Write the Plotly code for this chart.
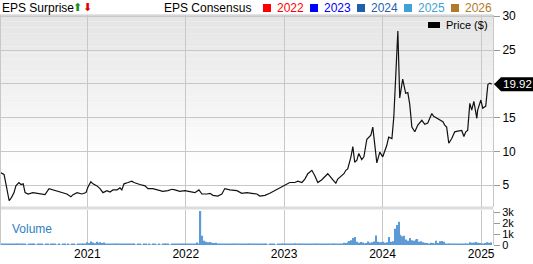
import plotly.graph_objects as go
import pandas as pd

# ---------------- data ----------------
price_dates = [
    "2020-02-12","2020-02-27","2020-03-05","2020-03-17","2020-03-26","2020-04-04","2020-04-11","2020-04-22",
    "2020-04-30","2020-05-08","2020-05-15","2020-05-26","2020-06-13","2020-06-27","2020-07-09","2020-07-28",
    "2020-08-12","2020-08-27","2020-09-14","2020-10-03","2020-10-17","2020-11-01","2020-11-09","2020-11-24",
    "2020-12-12","2020-12-27","2021-01-03","2021-01-14","2021-01-22","2021-02-06","2021-02-17","2021-02-28",
    "2021-03-15","2021-03-26","2021-04-06","2021-04-21","2021-05-02","2021-05-09","2021-05-17","2021-06-01",
    "2021-06-15","2021-06-23","2021-07-04","2021-07-15","2021-08-03","2021-08-14","2021-09-01","2021-09-20",
    "2021-10-08","2021-10-27","2021-11-11","2021-11-22","2021-12-10","2021-12-29","2022-01-17","2022-02-04",
    "2022-02-19","2022-03-02","2022-03-21","2022-04-01","2022-04-12","2022-04-30","2022-05-15","2022-05-26",
    "2022-06-14","2022-07-10","2022-07-28","2022-08-16","2022-09-03","2022-09-22","2022-10-03","2022-10-22",
    "2022-11-09","2022-11-28","2022-12-16","2023-01-04","2023-01-22","2023-02-10","2023-02-21","2023-03-08",
    "2023-03-19","2023-03-30","2023-04-14","2023-04-25","2023-05-06","2023-05-21","2023-06-01","2023-06-12",
    "2023-07-01","2023-07-12","2023-07-19","2023-08-03","2023-08-11","2023-08-18","2023-08-25","2023-09-06",
    "2023-09-13","2023-09-20","2023-09-28","2023-10-05","2023-10-16","2023-10-24","2023-11-04","2023-11-19",
    "2023-11-26","2023-12-11","2023-12-22","2024-01-02","2024-01-17","2024-01-24","2024-02-05","2024-02-12",
    "2024-02-19","2024-02-27","2024-03-05","2024-03-13","2024-03-16","2024-03-27","2024-04-04","2024-04-11",
    "2024-04-19","2024-04-30","2024-05-11","2024-05-26","2024-06-06","2024-06-17","2024-07-02","2024-07-09",
    "2024-07-20","2024-08-01","2024-08-12","2024-08-19","2024-08-26","2024-08-30","2024-09-03","2024-09-14",
    "2024-09-25","2024-10-06","2024-10-21","2024-10-29","2024-11-05","2024-11-12","2024-11-20","2024-11-27",
    "2024-12-05","2024-12-16","2024-12-19","2024-12-31","2025-01-07","2025-01-18","2025-01-26","2025-02-02",
    "2025-02-09",
]
price_values = [
    6.9, 6.6, 5.2, 2.7, 3.2, 3.9, 4.9, 5.4,
    5.1, 5.2, 3.9, 3.7, 3.9, 3.8, 3.7, 3.6,
    4.5, 4.3, 4.1, 3.9, 3.7, 3.3, 3.6, 3.9,
    3.7, 3.9, 4.7, 5.5, 5.2, 4.9, 4.5, 3.9,
    4.2, 4.0, 4.3, 4.3, 4.6, 4.3, 5.2, 5.4,
    5.6, 5.4, 5.2, 5.1, 4.9, 4.5, 4.5, 4.3,
    4.1, 4.2, 4.4, 4.3, 4.1, 4.2, 4.0, 3.9,
    4.3, 3.7, 3.7, 3.8, 3.5, 3.4, 3.7, 4.5,
    4.3, 4.2, 3.8, 3.9, 3.8, 3.7, 3.4, 3.5,
    3.8, 4.2, 4.6, 4.9, 5.4, 5.4, 5.6, 5.4,
    5.9, 6.7, 7.2, 6.4, 5.4, 5.8, 6.3, 6.7,
    5.8, 5.3, 5.9, 6.4, 6.7, 7.2, 7.4, 9.2,
    10.7, 8.4, 8.7, 9.7, 8.8, 9.2, 11.8, 12.4,
    13.6, 8.3, 9.9, 9.2, 10.9, 12.1, 11.9, 15.1,
    22.1, 27.8, 17.9, 20.6, 20.7, 18.6, 18.7, 17.0,
    13.6, 12.9, 13.9, 14.6, 14.0, 14.2, 15.6, 15.2,
    14.9, 14.6, 14.4, 13.9, 13.6, 12.4, 11.2, 11.9,
    12.9, 13.0, 13.1, 12.2, 12.9, 13.1, 17.1, 16.1,
    17.4, 14.9, 16.1, 17.6, 16.4, 16.7, 19.9, 20.1,
    19.92,
]

# weekly volume (shares), starting 2020-02-14
volume_start = "2020-02-14"
volume_values = [
    # 2020
    70, 90, 110, 140, 90, 80, 70, 60, 80, 60, 50, 70, 60, 50, 40, 60, 50, 70, 60, 40, 50, 60, 50,
    40, 60, 50, 40, 50, 60, 50, 40, 50, 40, 60, 50, 40, 50, 40, 60, 50, 40, 50, 60, 50, 80, 150,
    # 2021
    250, 180, 330, 220, 160, 290, 200, 260, 180, 240, 150, 120, 90, 80, 70, 90, 60, 70, 80, 130,
    90, 70, 60, 50, 60, 50, 40, 60, 50, 40, 50, 60, 40, 50, 40, 60, 50, 40, 50, 40,
    60, 50, 70, 50, 40, 60, 50, 70, 80, 60, 90, 70,
    # 2022
    60, 80, 70, 90, 100, 110, 220, 150, 3130, 850, 400, 300, 250, 280, 200, 180, 210, 150, 130, 120,
    100, 110, 90, 80, 100, 70, 80, 60, 70, 60, 50, 60, 50, 60, 70, 50, 60, 50, 80, 150,
    70, 60, 50, 60, 40, 50, 60, 50, 40, 60, 50, 60,
    # 2023
    60, 80, 70, 90, 100, 80, 160, 100, 80, 90, 120, 80, 100, 70, 90, 110, 80, 70, 90, 80,
    100, 70, 60, 80, 90, 70, 100, 80, 120, 100, 90, 150, 200, 180, 250, 380, 450, 650, 750, 300,
    200, 280, 220, 150, 180, 320, 200, 250, 330, 880, 300, 250,
    # 2024
    280, 300, 200, 250, 750, 300, 350, 1500, 1850, 2150, 950, 800, 850, 500, 400, 650, 450, 400, 500, 550,
    300, 350, 250, 200, 180, 150, 200, 180, 150, 400, 180, 350, 380, 300, 150, 120, 100, 130, 110, 90,
    120, 100, 130, 150, 120, 110, 140, 250, 200, 220, 280, 200,
    # 2025
    180, 150, 120, 180, 250, 200, 230,
]
volume_dates = pd.date_range(volume_start, periods=len(volume_values), freq="7D")

year_ticks = ["2021-01-01", "2022-01-01", "2023-01-01", "2024-01-01", "2025-01-01"]
year_labels = ["2021", "2022", "2023", "2024", "2025"]
price_ticks = [5, 10, 15, 20, 25, 30]
price_tick_labels = ["5", "10", "15", "", "25", "30"]
volume_ticks = [0, 1000, 2000, 3000]
volume_tick_labels = ["0", "1k", "2k", "3k"]
last_price = price_values[-1]
consensus_years = ["2022", "2023", "2024", "2025", "2026"]
consensus_colors = ["#ff0000", "#0000ff", "#1f5fae", "#3ea2d2", "#b07a2a"]

# ---------------- layout geometry (pixels) ----------------
W, H = 533, 264
ML, MR, MT, MB = 0, 40, 15, 19
PW, PH = W - ML - MR, H - MT - MB


def px_x(px):
    return (px - ML) / PW


def px_y(py):
    return (H - MB - py) / PH


FONT = "Liberation Sans, Arial, sans-serif"
GRID = "#c8c8c8"

ppu = 6.76                      # pixels per price unit
p_bot_px = 207                  # bottom of price panel
p_lo = (219 - p_bot_px) / ppu   # price value at panel bottom (0 would sit at px 219)
p_hi = p_lo + (p_bot_px - MT) / ppu
price_dom = [px_y(p_bot_px), 1.0]
v_top_px = 209.5
vol_dom = [0.0, px_y(v_top_px)]
v_hi = 3000 * (H - MB - v_top_px) / (H - MB - 212.5)

fig = go.Figure()
fig.add_trace(go.Scatter(
    x=price_dates, y=price_values, mode="lines",
    line=dict(color="#111111", width=1.2), yaxis="y", xaxis="x",
    hoverinfo="skip", showlegend=False,
))
fig.add_trace(go.Bar(
    x=volume_dates, y=volume_values, yaxis="y2", xaxis="x",
    marker=dict(color="#5d9bd6", line=dict(width=0)),
    hoverinfo="skip", showlegend=False,
))

shapes = []
# gradient background in price panel
n = 24
top_px, bot_px = MT, 165
for i in range(n):
    y0p = top_px + (bot_px - top_px) * i / n
    y1p = top_px + (bot_px - top_px) * (i + 1) / n
    t = (i + 0.5) / n
    c = int(229 + (255 - 229) * t)
    shapes.append(dict(type="rect", xref="paper", yref="paper",
                       x0=0, x1=1, y0=px_y(y1p), y1=px_y(y0p),
                       fillcolor=f"rgb({c},{c},{c})", line=dict(width=0), layer="below"))
# separator band between panels
shapes.append(dict(type="rect", xref="paper", yref="paper", x0=0, x1=1,
                   y0=px_y(209.5), y1=px_y(206.5), fillcolor="#dcdcdc",
                   line=dict(width=0), layer="below"))
# borders: top, left
shapes.append(dict(type="line", xref="paper", yref="paper", x0=0, x1=1, y0=1, y1=1,
                   line=dict(color=GRID, width=1)))
shapes.append(dict(type="line", xref="paper", yref="paper", x0=0.001, x1=0.001, y0=0, y1=1,
                   line=dict(color=GRID, width=1)))
# last price tag
hh = 7 / ppu
shapes.append(dict(
    type="path", xref="paper", yref="y",
    path=(f"M {px_x(494)},{last_price} L {px_x(501)},{last_price + hh} "
          f"L {px_x(533)},{last_price + hh} L {px_x(533)},{last_price - hh} "
          f"L {px_x(501)},{last_price - hh} Z"),
    fillcolor="#000000", line=dict(width=0), layer="above"))
# price legend swatch
shapes.append(dict(type="rect", xref="paper", yref="paper",
                   x0=px_x(428), x1=px_x(440), y0=px_y(28), y1=px_y(22),
                   fillcolor="#000000", line=dict(width=0)))
# consensus swatches
sq_x = [263, 310, 357, 404, 451]
for xx, col in zip(sq_x, consensus_colors):
    shapes.append(dict(type="rect", xref="paper", yref="paper",
                       x0=px_x(xx), x1=px_x(xx + 8), y0=px_y(12), y1=px_y(4),
                       fillcolor=col, line=dict(width=0)))

annotations = [
    dict(text="EPS Surprise", x=px_x(0), y=px_y(8), xref="paper", yref="paper",
         xanchor="left", yanchor="middle", showarrow=False,
         font=dict(family=FONT, size=12, color="#000")),
    dict(text="⬆", x=px_x(77), y=px_y(8), xref="paper", yref="paper",
         xanchor="center", yanchor="middle", showarrow=False,
         font=dict(family="DejaVu Sans", size=11, color="#1e8c1e")),
    dict(text="⬇", x=px_x(87), y=px_y(8), xref="paper", yref="paper",
         xanchor="center", yanchor="middle", showarrow=False,
         font=dict(family="DejaVu Sans", size=11, color="#e00000")),
    dict(text="EPS Consensus", x=px_x(162), y=px_y(8), xref="paper", yref="paper",
         xanchor="left", yanchor="middle", showarrow=False,
         font=dict(family=FONT, size=12, color="#000")),
    dict(text="Price ($)", x=px_x(444), y=px_y(25), xref="paper", yref="paper",
         xanchor="left", yanchor="middle", showarrow=False,
         font=dict(family=FONT, size=11, color="#000")),
    dict(text="Volume", x=px_x(10), y=px_y(229), xref="paper", yref="paper",
         xanchor="left", yanchor="middle", showarrow=False,
         font=dict(family=FONT, size=12, color="#2f7fc1")),
    dict(text=f"{last_price:.2f}", x=px_x(517), y=last_price, xref="paper", yref="y",
         xanchor="center", yanchor="middle", showarrow=False,
         font=dict(family=FONT, size=11.5, color="#ffffff")),
]
for xx, yr, col in zip(sq_x, consensus_years, consensus_colors):
    annotations.append(dict(text=yr, x=px_x(xx + 12), y=px_y(8), xref="paper", yref="paper",
                            xanchor="left", yanchor="middle", showarrow=False,
                            font=dict(family=FONT, size=12, color=col)))

fig.update_layout(
    width=W, height=H,
    margin=dict(l=ML, r=MR, t=MT, b=MB, pad=0, autoexpand=False),
    paper_bgcolor="#ffffff", plot_bgcolor="rgba(0,0,0,0)",
    font=dict(family=FONT, size=12, color="#000"),
    bargap=0.35,
    showlegend=False,
    shapes=shapes, annotations=annotations,
    xaxis=dict(type="date", range=["2020-02-12", "2025-02-14"], anchor="y2",
               tickvals=year_ticks, ticktext=year_labels, showgrid=True,
               gridcolor=GRID, gridwidth=1, ticks="", showline=False, zeroline=False,
               automargin=False,
               tickfont=dict(size=12, color="#000"), fixedrange=True),
    yaxis=dict(domain=price_dom, range=[p_lo, p_hi], side="right", anchor="x",
               tickvals=price_ticks, ticktext=price_tick_labels, automargin=False,
               showgrid=True, gridcolor=GRID, gridwidth=1, zeroline=False,
               ticks="outside", ticklen=6, tickcolor="#999", showline=True,
               linecolor=GRID, tickfont=dict(size=12, color="#000")),
    yaxis2=dict(domain=vol_dom, range=[0, v_hi], side="right", anchor="x",
                tickvals=volume_ticks, ticktext=volume_tick_labels, automargin=False,
                showgrid=False, zeroline=False,
                ticks="outside", ticklen=6, tickcolor="#999", showline=True,
                linecolor=GRID, tickfont=dict(size=11, color="#000")),
)

fig.write_html("out.html")
